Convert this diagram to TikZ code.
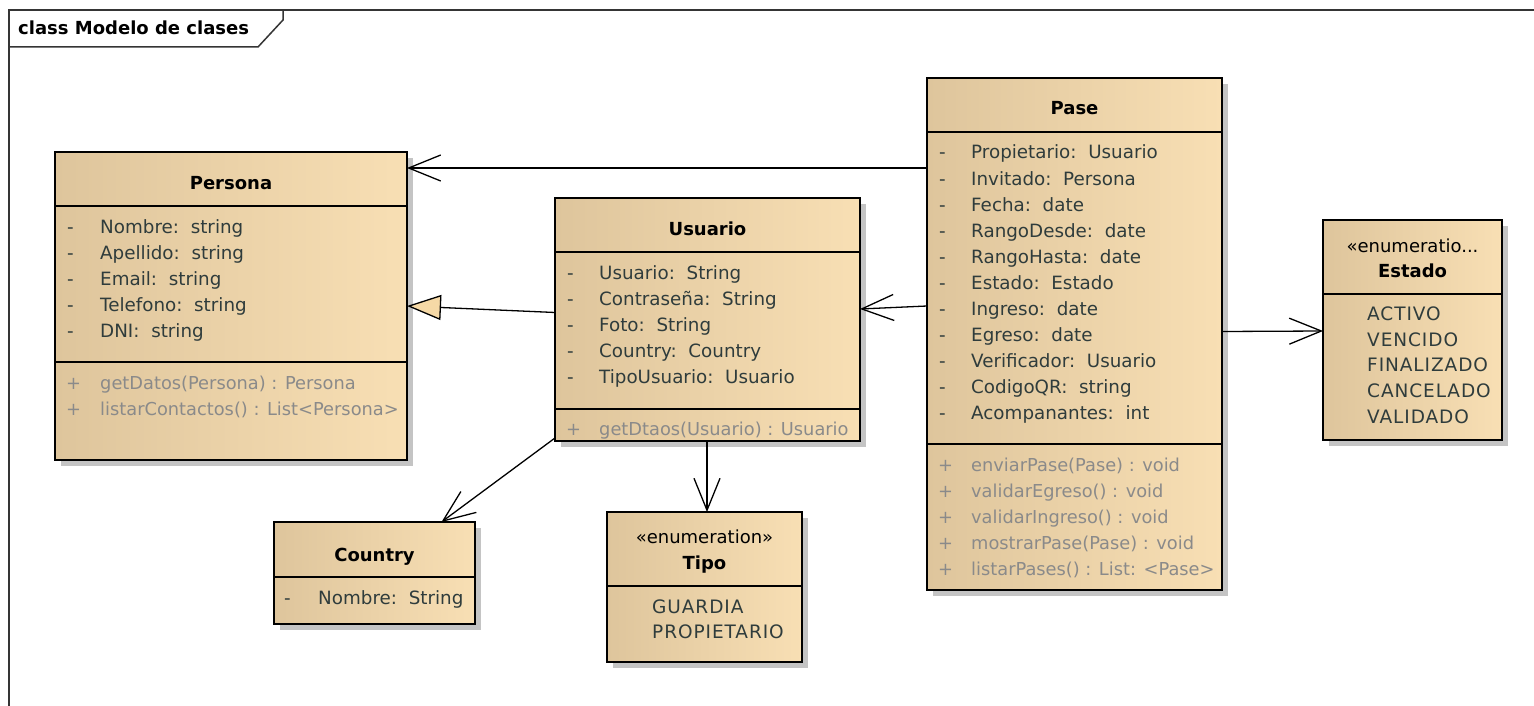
\documentclass[tikz,border=0pt]{standalone}
\usepackage{fontspec}
\setmainfont{DejaVu Sans}
\usetikzlibrary{arrows.meta,shadows}
\definecolor{tanL}{HTML}{DEC59C}
\definecolor{tanR}{HTML}{F8DFB4}
\definecolor{triC}{HTML}{F6D9A6}
\definecolor{attrC}{HTML}{2F3C3C}
\definecolor{methC}{HTML}{8A8A8A}
\definecolor{frameC}{HTML}{353535}
\definecolor{shadowC}{HTML}{C4C4C4}
\begin{document}
\begin{tikzpicture}[x=1pt,y=-1pt,
 cls/.style={draw=black, line width=1.3pt, left color=tanL, right color=tanR, anchor=north west, inner sep=0pt, outer sep=0pt,
   drop shadow={shadow xshift=6pt, shadow yshift=-6pt, fill=shadowC, opacity=1}},
 sep/.style={line width=1.2pt, black},
 ttl/.style={font=\bfseries\fontsize{18}{20}\selectfont, anchor=base, inner sep=0pt, text=black},
 ster/.style={font=\fontsize{18}{20}\selectfont, anchor=base, inner sep=0pt, text=black},
 att/.style={font=\fontsize{18.3}{20}\selectfont, anchor=base west, inner sep=0pt, text=attrC},
 met/.style={font=\fontsize{17.8}{20}\selectfont, anchor=base west, inner sep=0pt, text=methC},
 lit/.style={font=\fontsize{18.5}{20}\selectfont\addfontfeatures{LetterSpace=5}, anchor=base west, inner sep=0pt, text=attrC},
 assoc/.style={line width=1.3pt, -{Straight Barb[length=32pt,width=26pt]}},
 gen/.style={line width=1.3pt, -{Triangle[length=34pt,width=25pt,fill=triC]}},
 frm/.style={draw=frameC, line width=1.5pt}
]
\useasboundingbox (0,0) rectangle (1534,706);
\fill[white] (0,0) rectangle (1534,706);

% frame
\draw[frm] (9,706) -- (9,10) -- (1534,10);
\draw[frm] (9,47) -- (258,47) -- (283,20) -- (283,10);
\node[font=\bfseries\fontsize{18}{20}\selectfont, anchor=base west, inner sep=0pt] (ftitle) at (18,35) {class Modelo de clases};

% Persona
\node[cls, minimum width=352pt, minimum height=308pt] (persona) at (55,152) {};
\draw[sep] (55,206) -- (407,206);
\draw[sep] (55,362) -- (407,362);
\node[ttl] (persona-t) at (231,189.5) {Persona};
\foreach \n/\t [count=\i from 0] in {Nombre/string, Apellido/string, Email/string, Telefono/string, DNI/string}{
  \node[att] (persona-d\i) at (67,233.5+26*\i) {-};
  \node[att] (persona-a\i) at (100,233.5+26*\i) {\n:\hspace{0.64em}\t};
}
\foreach \m [count=\i from 0] in {getDatos(Persona) : Persona, listarContactos() : List<Persona>}{
  \node[met] (persona-p\i) at (66,389.5+26*\i) {+};
  \node[met] (persona-m\i) at (100,389.5+26*\i) {\m};
}

% Usuario
\node[cls, minimum width=305pt, minimum height=243pt] (usuario) at (555,198) {};
\draw[sep] (555,252) -- (860,252);
\draw[sep] (555,409) -- (860,409);
\node[ttl] (usuario-t) at (707.5,235.5) {Usuario};
\foreach \n/\t [count=\i from 0] in {Usuario/String, Contraseña/String, Foto/String, Country/Country, TipoUsuario/Usuario}{
  \node[att] (usuario-d\i) at (567,279+26*\i) {-};
  \node[att] (usuario-a\i) at (599,279+26*\i) {\n:\hspace{0.64em}\t};
}
\node[met] (usuario-p0) at (566,435.5) {+};
\node[met] (usuario-m0) at (599,435.5) {getDtaos(Usuario) : Usuario};

% Pase
\node[cls, minimum width=295pt, minimum height=512pt] (pase) at (927,78) {};
\draw[sep] (927,132) -- (1222,132);
\draw[sep] (927,444) -- (1222,444);
\node[ttl] (pase-t) at (1074.5,115) {Pase};
\foreach \n/\t [count=\i from 0] in {Propietario/Usuario, Invitado/Persona, Fecha/date, RangoDesde/date, RangoHasta/date, Estado/Estado, Ingreso/date, Egreso/date, Verificador/Usuario, CodigoQR/string, Acompanantes/int}{
  \node[att] (pase-d\i) at (939,159+26*\i) {-};
  \node[att] (pase-a\i) at (971,159+26*\i) {\n:\hspace{0.64em}\t};
}
\foreach \m [count=\i from 0] in {enviarPase(Pase) : void, validarEgreso() : void, validarIngreso() : void, mostrarPase(Pase) : void, listarPases() : List: <Pase>}{
  \node[met] (pase-p\i) at (938,471.5+26*\i) {+};
  \node[met] (pase-m\i) at (971,471.5+26*\i) {\m};
}

% Estado
\node[cls, minimum width=179pt, minimum height=220pt] (estado) at (1323,220) {};
\draw[sep] (1323,294) -- (1502,294);
\node[ster] (estado-s) at (1412.5,252) {«enumeratio...};
\node[ttl] (estado-t) at (1412.5,277.5) {Estado};
\foreach \l [count=\i from 0] in {ACTIVO, VENCIDO, FINALIZADO, CANCELADO, VALIDADO}{
  \node[lit] (estado-l\i) at (1367,320.5+25.7*\i) {\l};
}

% Country
\node[cls, minimum width=201pt, minimum height=102pt] (country) at (274,522) {};
\draw[sep] (274,577) -- (475,577);
\node[ttl] (country-t) at (374.5,561) {Country};
\node[att] (country-d0) at (284,604) {-};
\node[att] (country-a0) at (318,604) {Nombre:\hspace{0.64em}String};

% Tipo
\node[cls, minimum width=195pt, minimum height=150pt] (tipo) at (607,512) {};
\draw[sep] (607,586) -- (802,586);
\node[ster] (tipo-s) at (704.5,543.5) {«enumeration»};
\node[ttl] (tipo-t) at (704.5,569.5) {Tipo};
\node[lit] (tipo-l0) at (652,613) {GUARDIA};
\node[lit] (tipo-l1) at (652,638) {PROPIETARIO};

% connectors
\draw[assoc] (pase.west |- 0,168) -- (persona.east |- 0,168);
\draw[gen] (usuario.west |- 0,312.5) -- (persona.east |- 0,306);
\draw[assoc] (pase.west |- 0,306) -- (usuario.east |- 0,309);
\draw[assoc] (pase.east |- 0,331.5) -- (estado.west |- 0,331);
\draw[assoc] (usuario.south west) ++(0,-3) coordinate (uc) (uc) -- (country.north -| 441.5,0);
\draw[assoc] (usuario.south -| 707,0) -- (tipo.north -| 707,0);
\end{tikzpicture}
\end{document}
